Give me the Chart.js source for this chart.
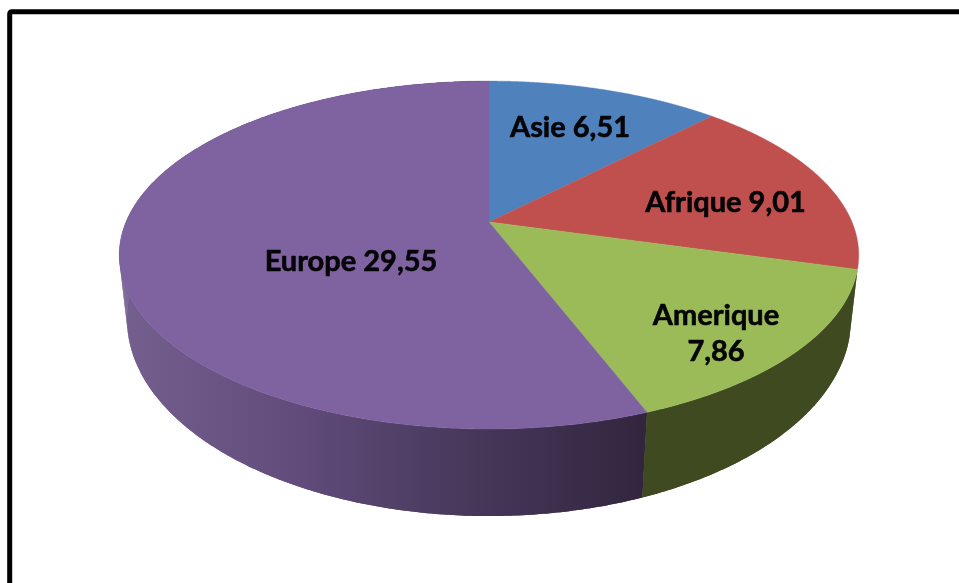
<!DOCTYPE html>
<html lang="fr">
<head>
<meta charset="utf-8">
<title>Camembert 3D</title>
<script src="https://cdn.jsdelivr.net/npm/chart.js@4"></script>
<style>
html,body{margin:0;padding:0;background:#fff;overflow:hidden}
canvas{display:block}
</style>
</head>
<body>
<canvas id="c" width="959" height="583"></canvas>
<script>
const categories = ['Asie', 'Afrique', 'Amerique', 'Europe'];
const values = [6.51, 9.01, 7.86, 29.55];
const topColors = ['#4f81bd', '#c0504d', '#9bbb59', '#7f63a1'];
const labelLines = [['Asie 6,51'], ['Afrique 9,01'], ['Amerique', '7,86'], ['Europe 29,55']];
const labelAnchors = [[570, 128], [725.5, 203], [716, 316], [351, 262]];

// Perspective projection of the pie's top and bottom discs
const topDisc = {cx: 489, cy: 222, a: 363, b: 167.7, p: -0.19};
const bottomDisc = {cx: 489, cy: 283.6, a: 356.1, b: 190.6, p: -0.18};
function project(d, angle) {
  const u = Math.cos(angle), v = Math.sin(angle);
  const w = 1 + d.p * v;
  return [d.cx + d.a * u / w, d.cy + d.b * v / w];
}

function wallFill(ctx, i) {
  if (i === 2) return '#3f4a20';
  const g = ctx.createLinearGradient(120, 0, 642, 0);
  g.addColorStop(0, '#745f8f');
  g.addColorStop(0.35, '#604b7a');
  g.addColorStop(0.63, '#4a3a5e');
  g.addColorStop(1, '#32263f');
  return g;
}

function fillPoly(ctx, pts) {
  ctx.beginPath();
  pts.forEach((q, j) => j ? ctx.lineTo(q[0], q[1]) : ctx.moveTo(q[0], q[1]));
  ctx.closePath();
  ctx.fill();
}

const pie3d = {
  id: 'pie3d',
  beforeDraw(chart) {
    const ctx = chart.ctx;
    ctx.save();
    ctx.fillStyle = '#fff';
    ctx.fillRect(0, 0, chart.width, chart.height);
    ctx.strokeStyle = '#000';
    ctx.lineWidth = 5;
    ctx.beginPath();
    ctx.roundRect(9.7, 11.7, 1200, 900, 2);
    ctx.stroke();
    ctx.restore();
  },
  beforeDatasetsDraw(chart) {
    const ctx = chart.ctx;
    const arcs = chart.getDatasetMeta(0).data;
    ctx.save();
    // side walls: only the slices facing the viewer
    [3, 2].forEach(i => {
      const arc = arcs[i];
      const span = arc.endAngle - arc.startAngle;
      const n = Math.ceil(span / 0.01);
      const top = [], bottom = [];
      for (let k = 0; k <= n; k++) {
        top.push(project(topDisc, arc.startAngle + span * k / n));
        bottom.push(project(bottomDisc, arc.startAngle + span * k / n));
      }
      ctx.fillStyle = wallFill(ctx, i);
      // step quads give the outer silhouette where the rims cross
      for (let k = 0; k < n; k++) fillPoly(ctx, [top[k], top[k + 1], bottom[k + 1], bottom[k]]);
      // one solid ribbon over them hides the seams
      fillPoly(ctx, top.concat(bottom.slice().reverse()));
    });
    // top face
    arcs.forEach((arc, i) => {
      const n = Math.ceil((arc.endAngle - arc.startAngle) / 0.005);
      ctx.beginPath();
      ctx.moveTo(topDisc.cx, topDisc.cy);
      for (let k = 0; k <= n; k++) {
        const q = project(topDisc, arc.startAngle + (arc.endAngle - arc.startAngle) * k / n);
        ctx.lineTo(q[0], q[1]);
      }
      ctx.closePath();
      ctx.fillStyle = topColors[i];
      ctx.strokeStyle = topColors[i];
      ctx.lineWidth = 0.4;
      ctx.fill();
      ctx.stroke();
    });
    // labels
    ctx.fillStyle = '#050508';
    ctx.strokeStyle = '#050508';
    ctx.lineWidth = 0.6;
    ctx.lineJoin = 'round';
    ctx.font = 'bold 29px Lato, sans-serif';
    ctx.textAlign = 'center';
    ctx.textBaseline = 'middle';
    labelLines.forEach((lines, i) => {
      lines.forEach((t, j) => {
        const y = labelAnchors[i][1] + j * 36;
        ctx.fillText(t, labelAnchors[i][0], y);
        ctx.strokeText(t, labelAnchors[i][0], y);
      });
    });
    ctx.restore();
    return false;
  }
};

new Chart(document.getElementById('c'), {
  type: 'pie',
  data: {
    labels: categories,
    datasets: [{data: values, backgroundColor: topColors, borderWidth: 0}]
  },
  options: {
    responsive: false,
    animation: false,
    plugins: {legend: {display: false}, tooltip: {enabled: false}}
  },
  plugins: [pie3d]
});
</script>
</body>
</html>
